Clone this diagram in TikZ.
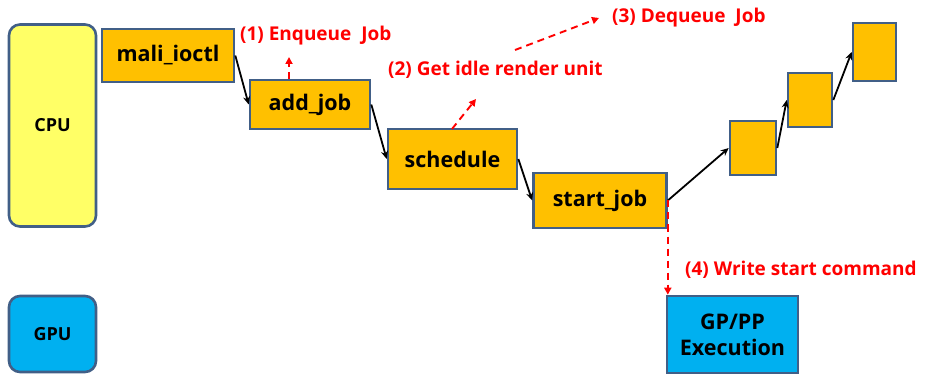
\documentclass[tikz,border=0pt]{standalone}
\usepackage{fontspec}
\setmainfont{Open Sans}
\usetikzlibrary{arrows.meta}
\definecolor{edgeblue}{RGB}{65,95,135}
\definecolor{jobfill}{RGB}{255,192,0}
\definecolor{cpufill}{RGB}{255,255,102}
\definecolor{gpufill}{RGB}{0,176,240}
\definecolor{notered}{RGB}{255,0,0}
\begin{document}
\begin{tikzpicture}[x=1pt,y=-1pt,
  unit/.style={draw=edgeblue,line width=2.6pt,rounded corners=11pt,inner sep=0pt},
  jobbox/.style={draw=edgeblue,line width=2.6pt,fill=jobfill,inner sep=0pt,
    font=\bfseries\fontsize{21.5}{24}\selectfont},
  flow/.style={-{Stealth[length=8pt,width=7pt]},line width=1.8pt,black},
  note/.style={-{Triangle[length=7pt,width=7pt]},line width=1.9pt,notered,dash pattern=on 7pt off 5pt},
  notetext/.style={text=notered,font=\bfseries\fontsize{19}{21}\selectfont,inner sep=0pt,anchor=west}]
\useasboundingbox (0,0) rectangle (926,374);
% processor units
\node[unit,fill=cpufill,minimum width=87pt,minimum height=202pt,
  font=\bfseries\fontsize{18}{20}\selectfont] (cpu) at (52.5,125.5) {CPU};
\node[unit,fill=gpufill,minimum width=87pt,minimum height=76pt,
  font=\bfseries\fontsize{18}{20}\selectfont] (gpu) at (52.5,334) {GPU};
% driver call chain
\node[jobbox,minimum width=132pt,minimum height=53pt] (ioctl) at (168,55.5) {mali\_ioctl};
\node[jobbox,minimum width=120pt,minimum height=49pt] (add) at (310,104.5) {add\_job};
\node[jobbox,minimum width=129pt,minimum height=60pt] (sched) at (452.5,159) {schedule};
\node[jobbox,minimum width=133pt,minimum height=55pt] (start) at (600,200.5) {start\_job};
\node[jobbox,minimum width=46pt,minimum height=54pt] (q1) at (753,148) {};
\node[jobbox,minimum width=44pt,minimum height=54pt] (q2) at (810,100) {};
\node[jobbox,minimum width=43pt,minimum height=58pt] (q3) at (874.5,52) {};
\node[jobbox,fill=gpufill,minimum width=131pt,minimum height=77pt,align=center,
  font=\bfseries\fontsize{21.5}{26}\selectfont] (exec) at (732.5,334.5) {GP/PP\\Execution};
% solid flow
\draw[flow] (ioctl.east) -- (add.west);
\draw[flow] (add.east) -- (sched.west);
\draw[flow] (sched.east) -- (start.west);
\draw[flow] (start.east) -- (q1.west);
\draw[flow] (q1.east) -- (q2.west);
\draw[flow] (q2.east) -- (q3.west);
% annotated steps
\coordinate (n1) at (289,57);
\coordinate (s2) at (452,129);
\coordinate (n2) at (476,99);
\coordinate (s3) at (515,50);
\coordinate (n3) at (599,18);
\draw[note] (add.north -| n1) -- (n1);
\draw[note] (s2) -- (n2);
\draw[note] (s3) -- (n3);
\draw[note] (start.east) -- (start.east |- exec.north);
\node[notetext] (t1) at (240,36) {(1)\ Enqueue\ \ Job};
\node[notetext] (t2) at (388,70) {(2)\ Get\ idle\ render\ unit};
\node[notetext] (t3) at (612,18) {(3)\ Dequeue\ \ Job};
\node[notetext] (t4) at (685,270) {(4)\ Write\ start\ command};
\end{tikzpicture}
\end{document}
